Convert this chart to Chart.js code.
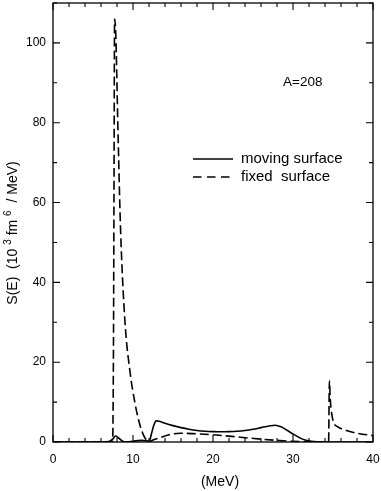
<!DOCTYPE html>
<html>
<head>
<meta charset="utf-8">
<script src="https://cdn.jsdelivr.net/npm/chart.js@4.4.0/dist/chart.umd.min.js"></script>
<style>
  body { margin: 0; background: #fff; }
  #wrap { width: 381px; height: 491px; }
</style>
</head>
<body>
<div id="wrap"><canvas id="sChart" width="381" height="491"></canvas></div>
<script>
var FONT = '"Liberation Sans", Arial, Helvetica, sans-serif';

// moving surface (solid)
var movingE = [0, 6, 7.0, 7.5, 7.8, 8.2, 8.7, 9.2, 10, 11, 11.8, 12.0, 12.3, 12.6, 12.9, 13.3, 14, 15, 16, 17, 18, 19, 20, 21, 22, 23, 24, 25, 26, 27, 27.8, 28.5, 29.2, 30, 30.8, 31.5, 32.3, 33, 34, 40];
var movingS = [0, 0, 0.1, 0.8, 1.5, 1.0, 0.2, 0.05, 0.2, 0.4, 0.3, 0.05, 2.0, 4.2, 5.3, 5.2, 4.7, 4.1, 3.6, 3.2, 2.9, 2.7, 2.6, 2.55, 2.6, 2.7, 2.9, 3.2, 3.6, 4.0, 4.2, 3.8, 3.0, 2.0, 1.1, 0.5, 0.15, 0.03, 0, 0];

// fixed surface (dashed)
var fixedE = [0, 7.45, 7.55, 7.62, 7.7, 7.85, 8.1, 8.45, 9.0, 9.6, 10.25, 10.9, 11.3, 11.8, 12.0, 12.5, 13.4, 14.5, 15.9, 17.5, 20, 23.4, 26, 28.4, 30, 32, 34.45, 34.55, 34.65, 34.85, 35.1, 35.6, 36.5, 38, 40];
var fixedS = [0, 0, 20, 60, 106, 102, 80, 53, 30, 18, 9.7, 4.0, 1.8, 0.2, 0.05, 0.5, 1.1, 1.8, 2.2, 2.1, 1.8, 1.2, 0.7, 0.35, 0.15, 0.05, 0, 15.3, 11, 7, 4.8, 3.8, 3.0, 2.2, 1.6];

var xTicks = [0, 10, 20, 30, 40];
var yTicks = [0, 20, 40, 60, 80, 100];

function pts(es, vs) {
  return es.map(function (e, i) { return { x: e, y: vs[i] }; });
}

var frame = {
  id: 'frame',
  afterDraw: function (chart) {
    var ctx = chart.ctx, a = chart.chartArea, x = chart.scales.x, y = chart.scales.y;
    ctx.save();
    ctx.strokeStyle = '#000';
    ctx.lineWidth = 1.3;
    ctx.strokeRect(a.left, a.top, a.right - a.left, a.bottom - a.top);
    ctx.lineWidth = 1.1;
    ctx.beginPath();
    for (var v = 0; v <= 40; v += 2) {
      var px = x.getPixelForValue(v), len = v % 10 === 0 ? 7 : 4;
      ctx.moveTo(px, a.bottom); ctx.lineTo(px, a.bottom - len);
      ctx.moveTo(px, a.top); ctx.lineTo(px, a.top + len);
    }
    for (var w = 0; w <= 110; w += 10) {
      var py = y.getPixelForValue(w), ln = w % 20 === 0 ? 7 : 4;
      ctx.moveTo(a.left, py); ctx.lineTo(a.left + ln, py);
      ctx.moveTo(a.right, py); ctx.lineTo(a.right - ln, py);
    }
    ctx.stroke();

    // legend
    ctx.lineWidth = 1.6;
    ctx.beginPath(); ctx.moveTo(193, 159); ctx.lineTo(233, 159); ctx.stroke();
    ctx.setLineDash([8.5, 5.5]);
    ctx.beginPath(); ctx.moveTo(193, 177); ctx.lineTo(230, 177); ctx.stroke();
    ctx.setLineDash([]);
    ctx.fillStyle = '#000';
    ctx.font = '15px ' + FONT;
    ctx.textBaseline = 'middle';
    ctx.textAlign = 'left';
    ctx.fillText('moving surface', 241, 159);
    ctx.fillText('fixed  surface', 241, 177);

    ctx.font = '13.5px ' + FONT;
    ctx.fillText('A=208', 283, 82);

    // x title
    ctx.font = '14px ' + FONT;
    ctx.textAlign = 'center';
    ctx.fillText('(MeV)', 220, 482);

    // y title with superscripts
    var parts = [['S(E)  (10 ', 14, 0], ['3', 10, -5], [' fm ', 14, 0], ['6', 10, -5], ['  / MeV)', 14, 0]];
    var total = 0;
    parts.forEach(function (p) { ctx.font = p[1] + 'px ' + FONT; p.push(ctx.measureText(p[0]).width); total += p[3]; });
    ctx.translate(13, 233);
    ctx.rotate(-Math.PI / 2);
    ctx.textAlign = 'left';
    var cx = -total / 2;
    parts.forEach(function (p) {
      ctx.font = p[1] + 'px ' + FONT;
      ctx.fillText(p[0], cx, p[2]);
      cx += p[3];
    });
    ctx.restore();
  }
};

new Chart(document.getElementById('sChart').getContext('2d'), {
  type: 'line',
  data: {
    datasets: [{
      label: 'moving surface',
      data: pts(movingE, movingS),
      borderColor: '#000',
      borderWidth: 1.6,
      pointRadius: 0,
      cubicInterpolationMode: 'monotone'
    }, {
      label: 'fixed surface',
      data: pts(fixedE, fixedS),
      borderColor: '#000',
      borderWidth: 1.6,
      borderDash: [9, 4],
      pointRadius: 0,
      cubicInterpolationMode: 'monotone'
    }]
  },
  options: {
    responsive: false,
    animation: false,
    layout: { padding: { top: 3, right: 8, left: 0, bottom: 0 } },
    plugins: { legend: { display: false }, tooltip: { enabled: false } },
    scales: {
      x: {
        type: 'linear', min: 0, max: 40,
        grid: { display: false, drawTicks: false },
        border: { display: false },
        afterBuildTicks: function (s) { s.ticks = xTicks.map(function (v) { return { value: v }; }); },
        ticks: { color: '#000', font: { size: 12, family: FONT }, padding: 10, maxRotation: 0 },
        afterFit: function (s) { s.height = 49; s.paddingLeft = 0; s.paddingRight = 0; }
      },
      y: {
        min: 0, max: 110,
        grid: { display: false, drawTicks: false },
        border: { display: false },
        afterBuildTicks: function (s) { s.ticks = yTicks.map(function (v) { return { value: v }; }); },
        ticks: { color: '#000', font: { size: 12, family: FONT }, padding: 7 },
        afterFit: function (s) { s.width = 53; s.paddingTop = 0; s.paddingBottom = 0; }
      }
    }
  },
  plugins: [frame]
});
</script>
</body>
</html>
